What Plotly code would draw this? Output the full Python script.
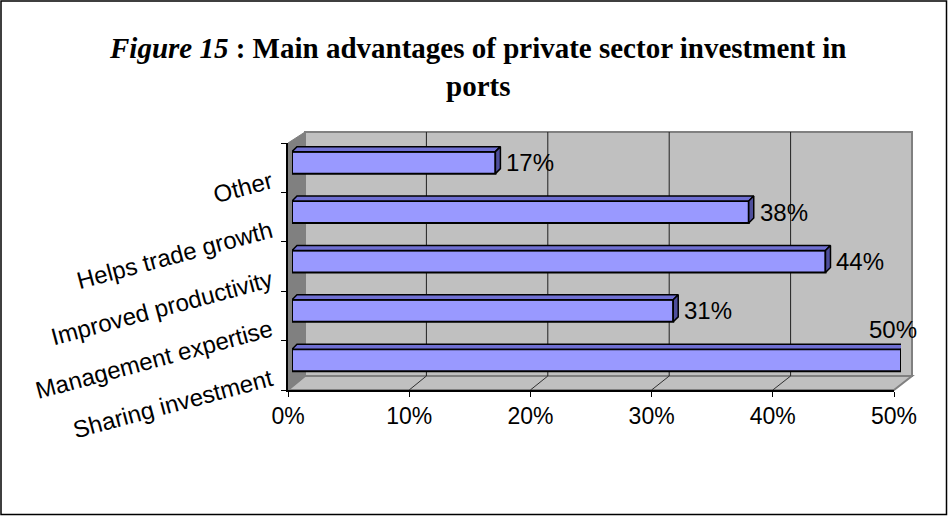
import plotly.graph_objects as go

# Survey results: share of respondents naming each advantage (bottom to top)
categories = [
    "Sharing investment",
    "Management expertise",
    "Improved productivity",
    "Helps trade growth",
    "Other",
]
values = [50.0, 31.3, 43.8, 37.5, 16.7]
x_ticks = [0, 10, 20, 30, 40, 50]
title_text = "<b><i>Figure 15</i> : Main advantages of private sector investment in<br>ports</b>"

# ---- canvas geometry (pixels) ----
W, H = 948, 516
FRONT_X0, FRONT_X1 = 288, 894      # front value axis
BAR_X0, BAR_X1 = 292, 901          # front face of the bars
BACK_X0, BACK_X1 = 305, 912        # back wall
AXIS_Y, CAT_TOP = 390, 143         # front category axis
WALL_TOP, WALL_BOTTOM = 132, 376   # back wall
DEPTH_PX = 5                       # bar depth drawn as an oblique face
LABEL_DROP_PX = 12                 # category labels sit slightly below their band

BAR_W, BAR_OFF = 0.445, -0.12

def px(x):
    return x / W

def py(y):
    return 1 - y / H

vmax = x_ticks[-1]
band_px = (AXIS_Y - CAT_TOP) / len(categories)
dxu = DEPTH_PX * vmax / (BAR_X1 - BAR_X0)
dyu = DEPTH_PX / band_px

GREY_WALL = "#C0C0C0"
GREY_DARK = "#808080"
BAR_FRONT = "#9999FF"
BAR_TOP = "#6F6FD2"
BAR_END = "#4F4F9C"
FONT = "Liberation Sans, Arial, sans-serif"

fig = go.Figure()
pos = list(range(len(categories)))

# Invisible anchors so the tick and category-label axes are populated
fig.add_trace(go.Scatter(
    x=[0, vmax], y=[-0.5, len(categories) - 0.5], xaxis="x", yaxis="y",
    mode="markers", marker=dict(opacity=0), hoverinfo="skip", showlegend=False,
))
fig.add_trace(go.Scatter(
    x=[0, vmax], y=[0, len(categories) - 1], xaxis="x", yaxis="y2",
    mode="markers", marker=dict(opacity=0), hoverinfo="skip", showlegend=False,
))
fig.add_trace(go.Scatter(
    x=[0, vmax], y=[0, 0], xaxis="x3", yaxis="y",
    mode="markers", marker=dict(opacity=0), hoverinfo="skip", showlegend=False,
))

# Front faces of the bars
fig.add_trace(go.Bar(
    x=values, y=pos, orientation="h",
    xaxis="x2", yaxis="y",
    width=BAR_W, offset=BAR_OFF,
    marker=dict(color=BAR_FRONT, line=dict(color="black", width=2)),
    hoverinfo="skip", showlegend=False,
))

# Oblique top and end faces giving the bars depth
top_x, top_y, end_x, end_y = [], [], [], []
for i, v in zip(pos, values):
    yb = i + BAR_OFF
    yt = yb + BAR_W
    top_x += [0, v, v + dxu, dxu, 0, None]
    top_y += [yt, yt, yt + dyu, yt + dyu, yt, None]
    end_x += [v, v + dxu, v + dxu, v, v, None]
    end_y += [yb, yb + dyu, yt + dyu, yt, yb, None]

fig.add_trace(go.Scatter(
    x=top_x, y=top_y, xaxis="x2", yaxis="y", mode="lines",
    fill="toself", fillcolor=BAR_TOP, line=dict(color="black", width=1.5),
    hoverinfo="skip", showlegend=False,
))
fig.add_trace(go.Scatter(
    x=end_x, y=end_y, xaxis="x2", yaxis="y", mode="lines",
    fill="toself", fillcolor=BAR_END, line=dict(color="black", width=1.5),
    hoverinfo="skip", showlegend=False,
))

shapes = []
# Back wall, floor and left side wall
shapes.append(dict(
    type="rect", xref="paper", yref="paper", layer="below",
    x0=px(BACK_X0), x1=px(BACK_X1), y0=py(WALL_BOTTOM), y1=py(WALL_TOP),
    fillcolor=GREY_WALL, line=dict(color=GREY_DARK, width=2),
))
shapes.append(dict(
    type="path", xref="paper", yref="paper", layer="below",
    path=(f"M{px(FRONT_X0)},{py(AXIS_Y)} L{px(FRONT_X1)},{py(AXIS_Y)} "
          f"L{px(BACK_X1)},{py(WALL_BOTTOM)} L{px(BACK_X0)},{py(WALL_BOTTOM)} Z"),
    fillcolor=GREY_WALL, line=dict(color=GREY_DARK, width=2),
))
shapes.append(dict(
    type="path", xref="paper", yref="paper", layer="below",
    path=(f"M{px(FRONT_X0)},{py(AXIS_Y)} L{px(BACK_X0)},{py(WALL_BOTTOM)} "
          f"L{px(BACK_X0)},{py(WALL_TOP)} L{px(FRONT_X0)},{py(CAT_TOP)} Z"),
    fillcolor=GREY_DARK, line=dict(color=GREY_DARK, width=1),
))
# Gridlines on the back wall and across the floor
for t in x_ticks[1:-1]:
    shapes.append(dict(
        type="line", xref="x3", yref="paper", layer="below",
        x0=t, x1=t, y0=py(WALL_BOTTOM), y1=py(WALL_TOP),
        line=dict(color="#202020", width=1),
    ))
for t in x_ticks[1:-1]:
    fx = FRONT_X0 + (FRONT_X1 - FRONT_X0) * t / vmax
    bx = BACK_X0 + (BACK_X1 - BACK_X0) * t / vmax
    shapes.append(dict(
        type="line", xref="paper", yref="paper", layer="below",
        x0=px(fx), x1=px(bx), y0=py(AXIS_Y), y1=py(WALL_BOTTOM),
        line=dict(color="#303030", width=1),
    ))
# Chart frame
shapes.append(dict(
    type="rect", xref="paper", yref="paper", layer="above",
    x0=px(1), x1=px(W - 1.5), y0=py(H - 1.5), y1=py(1),
    line=dict(color="black", width=1.5), fillcolor="rgba(0,0,0,0)",
))

# Value labels
annotations = []
for i, v in zip(pos, values):
    text = f"{v:.0f}%"
    yc = i + BAR_OFF + BAR_W / 2
    if v >= vmax:
        annotations.append(dict(
            x=v, y=i + BAR_OFF + BAR_W + dyu, xref="x2", yref="y",
            text=text, showarrow=False, xanchor="center", yanchor="bottom",
            xshift=-8, yshift=-1,
            font=dict(family=FONT, size=24, color="black"),
        ))
    else:
        annotations.append(dict(
            x=v, y=yc, xref="x2", yref="y",
            text=text, showarrow=False, xanchor="left", yanchor="middle",
            xshift=DEPTH_PX + 4,
            font=dict(family=FONT, size=24, color="black"),
        ))

annotations.append(dict(
    x=px(478), y=py(67), xref="paper", yref="paper",
    text=title_text, showarrow=False, xanchor="center", yanchor="middle",
    font=dict(family="Liberation Serif, Times New Roman, serif", size=29, color="black"),
))

n = len(categories)
shift = LABEL_DROP_PX / band_px

fig.update_layout(
    width=W, height=H,
    margin=dict(l=0, r=0, t=0, b=0, pad=0),
    paper_bgcolor="white",
    plot_bgcolor="rgba(0,0,0,0)",
    showlegend=False,
    barmode="overlay",
    shapes=shapes,
    annotations=annotations,
    xaxis=dict(
        domain=[px(FRONT_X0), px(FRONT_X1)], range=[0, vmax], anchor="y",
        tickmode="array", tickvals=x_ticks, ticktext=[f"{t}%" for t in x_ticks],
        ticks="outside", ticklen=5, tickcolor="black", tickwidth=1,
        showline=True, linecolor="black", linewidth=1.5,
        showgrid=False, zeroline=False, showticklabels=True, automargin=False,
        tickfont=dict(family=FONT, size=23, color="black"),
    ),
    xaxis2=dict(
        domain=[px(BAR_X0), px(BAR_X1)], range=[0, vmax], anchor="y",
        visible=False, showgrid=False, zeroline=False, automargin=False,
    ),
    xaxis3=dict(
        domain=[px(BACK_X0), px(BACK_X1)], range=[0, vmax], anchor="y",
        visible=False, showgrid=False, zeroline=False, automargin=False,
    ),
    yaxis=dict(
        domain=[py(AXIS_Y), py(CAT_TOP)], range=[-0.5, n - 0.5], anchor="x",
        tickmode="array", tickvals=[k - 0.5 for k in range(n + 1)],
        showticklabels=False, automargin=False,
        ticks="outside", ticklen=5, tickcolor="black", tickwidth=1,
        showline=True, linecolor="black", linewidth=1.5,
        showgrid=False, zeroline=False,
    ),
    yaxis2=dict(
        overlaying="y", anchor="x", side="left",
        range=[-0.5 + shift, n - 0.5 + shift],
        tickmode="array", tickvals=pos, ticktext=categories, tickangle=-15,
        ticks="", showline=False, showgrid=False, zeroline=False,
        showticklabels=True, ticklabelstandoff=16, automargin=False,
        tickfont=dict(family=FONT, size=24, color="black"),
    ),
)

fig.write_html("out.html")
